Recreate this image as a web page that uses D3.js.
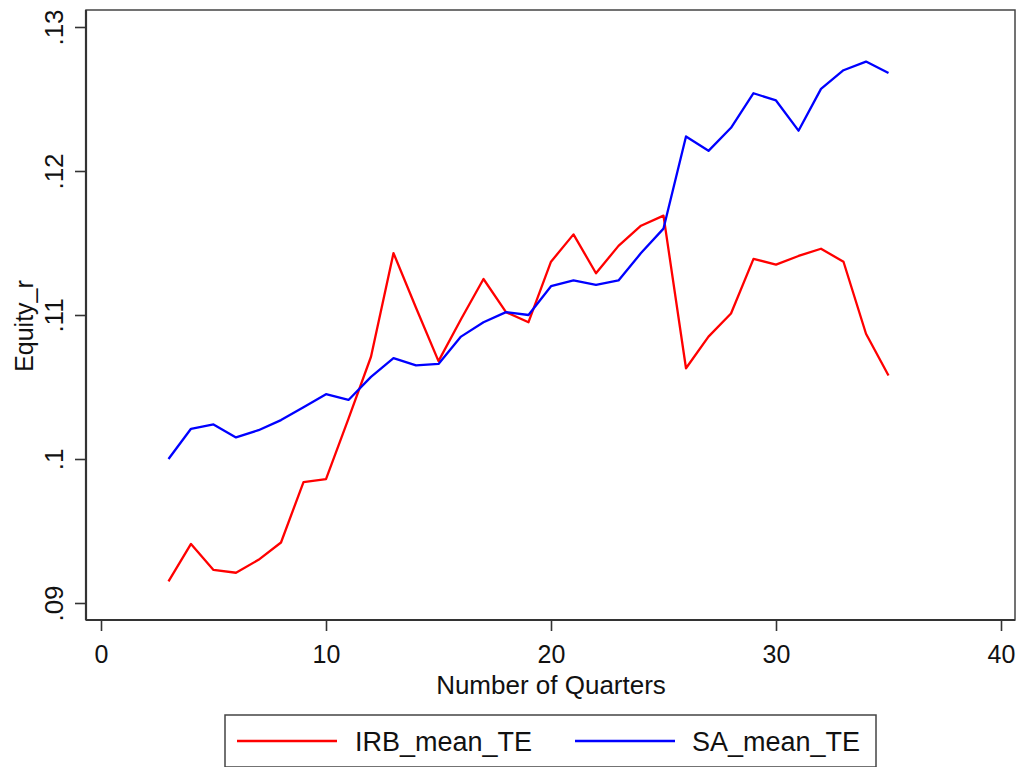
<!DOCTYPE html>
<html>
<head>
<meta charset="utf-8">
<script src="https://cdn.jsdelivr.net/npm/d3@7"></script>
<style>
  html, body { margin: 0; padding: 0; background: #fff; }
  svg { display: block; font-family: "Liberation Sans", Arial, sans-serif; }
</style>
</head>
<body>
<svg id="chart" width="1026" height="767"></svg>
<script>
// Quarters 3..35
const quarters = d3.range(3, 36);

const irbMeanTE = [
  0.0915, 0.0941, 0.0923, 0.0921, 0.0930, 0.0942, 0.0984, 0.0986, 0.1028, 0.1071,
  0.1143, 0.1105, 0.1068, 0.1097, 0.1125, 0.1102, 0.1095, 0.1137, 0.1156, 0.1129,
  0.1148, 0.1162, 0.1169, 0.1063, 0.1085, 0.1101, 0.1139, 0.1135, 0.1141, 0.1146,
  0.1137, 0.1087, 0.1058
];

const saMeanTE = [
  0.1000, 0.1021, 0.1024, 0.1015, 0.1020, 0.1027, 0.1036, 0.1045, 0.1041, 0.1057,
  0.1070, 0.1065, 0.1066, 0.1085, 0.1095, 0.1102, 0.1100, 0.1120, 0.1124, 0.1121,
  0.1124, 0.1143, 0.1160, 0.1224, 0.1214, 0.1230, 0.1254, 0.1249, 0.1228, 0.1257,
  0.1270, 0.1276, 0.1268
];

const xTicks = [0, 10, 20, 30, 40];
const yTicks = [0.09, 0.10, 0.11, 0.12, 0.13];

const seriesNames = ["IRB_mean_TE", "SA_mean_TE"];
const seriesColors = ["#ff0000", "#0000ff"];

const svg = d3.select("#chart");

// plot region
const box = { left: 86, right: 1015, top: 10, bottom: 620 };

const x = d3.scaleLinear().domain([0, 40]).range([101, 1001]);
const y = d3.scaleLinear().domain([0.09, 0.13]).range([603, 27]);

const axisColor = "#333";

// plot region outline
svg.append("rect")
  .attr("x", box.left).attr("y", box.top)
  .attr("width", box.right - box.left).attr("height", box.bottom - box.top)
  .attr("fill", "none").attr("stroke", "#444").attr("stroke-width", 1.5);

// x axis
const xAxis = svg.append("g")
  .attr("transform", `translate(0,${box.bottom})`)
  .call(d3.axisBottom(x).tickValues(xTicks).tickSize(11).tickSizeOuter(0));
xAxis.select(".domain")
  .attr("d", `M${box.left},0H${box.right}`)
  .attr("stroke", axisColor).attr("stroke-width", 2.2);
xAxis.selectAll(".tick line").attr("stroke", axisColor).attr("stroke-width", 1.6);
xAxis.selectAll(".tick text")
  .attr("fill", "#111").attr("font-size", 25)
  .attr("y", 43).attr("dy", 0);

// y axis
const yFmt = v => String(+v.toFixed(2)).replace(/^0/, "");
const yAxis = svg.append("g")
  .attr("transform", `translate(${box.left},0)`)
  .call(d3.axisLeft(y).tickValues(yTicks).tickSize(11).tickFormat(yFmt).tickSizeOuter(0));
yAxis.select(".domain")
  .attr("d", `M0,${box.top}V${box.bottom}`)
  .attr("stroke", axisColor).attr("stroke-width", 2.2);
yAxis.selectAll(".tick line").attr("stroke", axisColor).attr("stroke-width", 1.6);
yAxis.selectAll(".tick text")
  .attr("fill", "#111").attr("font-size", 26)
  .attr("x", null).attr("dy", null)
  .attr("text-anchor", "middle")
  .attr("transform", "translate(-23,0) rotate(-90)");

// axis titles
svg.append("text")
  .attr("x", 551).attr("y", 694)
  .attr("text-anchor", "middle")
  .attr("font-size", 26).attr("fill", "#111")
  .text("Number of Quarters");

svg.append("text")
  .attr("transform", "translate(33,326) rotate(-90)")
  .attr("text-anchor", "middle")
  .attr("font-size", 25).attr("fill", "#111")
  .text("Equity_r");

// series lines
const line = d3.line()
  .x((d, i) => x(quarters[i]))
  .y(d => y(d));

[irbMeanTE, saMeanTE].forEach((vals, k) => {
  svg.append("path")
    .datum(vals)
    .attr("fill", "none")
    .attr("stroke", seriesColors[k])
    .attr("stroke-width", 2.3)
    .attr("stroke-linejoin", "round")
    .attr("d", line);
});

// legend
const legend = svg.append("g");
legend.append("rect")
  .attr("x", 225).attr("y", 715)
  .attr("width", 651).attr("height", 52)
  .attr("fill", "#fff").attr("stroke", "#444").attr("stroke-width", 1.5);

const legendItems = [
  { lx: 237, tx: 355 },
  { lx: 575, tx: 692 }
];
legendItems.forEach((it, k) => {
  legend.append("line")
    .attr("x1", it.lx).attr("x2", it.lx + 100)
    .attr("y1", 741).attr("y2", 741)
    .attr("stroke", seriesColors[k]).attr("stroke-width", 2.3);
  legend.append("text")
    .attr("x", it.tx).attr("y", 751)
    .attr("font-size", 27).attr("fill", "#111")
    .text(seriesNames[k]);
});
</script>
</body>
</html>
